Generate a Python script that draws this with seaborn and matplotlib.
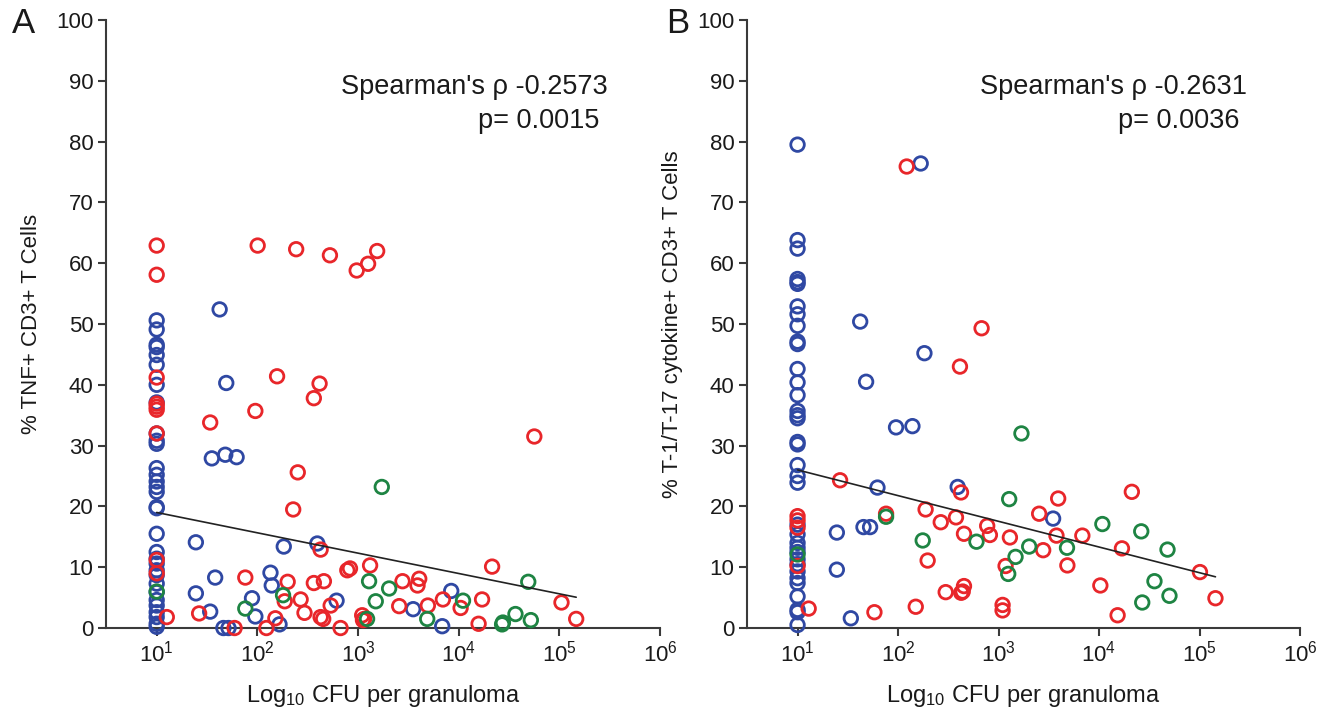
import numpy as np
import pandas as pd
import matplotlib
matplotlib.use("Agg")
import matplotlib.pyplot as plt
import seaborn as sns

# --- data (CFU per granuloma, % cells) ---
# panel A: TNF+
a_blue_cfu = [10] * 32 + [24.5, 38.1, 24.5, 34, 42.2, 49.1, 35.3, 48, 62.2, 46, 51.7, 88.5, 95.5,
                          135, 139, 166, 183, 394, 612, 3530, 8430, 6860]
a_blue_pct = [50.6, 49.1, 46.6, 46.2, 44.9, 43.3, 40.0, 37.1, 32.0, 30.8, 30.3, 26.3, 25.2, 24.1,
              23.2, 22.4, 19.9, 19.7, 15.5, 12.5, 11.4, 10.6, 9.5, 8.7, 7.3, 5.9, 4.6, 3.7, 2.6,
              1.8, 0.7, 0.2,
              14.1, 8.3, 5.7, 2.7, 52.4, 40.3, 27.9, 28.5, 28.1, 0, 0, 4.9, 1.9,
              9.1, 7.0, 0.6, 13.4, 13.9, 4.5, 3.1, 6.1, 0.3]
a_red_cfu = [10] * 9 + [12.6, 26.4, 34, 59.4, 75.9, 100.7, 95.5, 123, 151, 187, 200, 157, 243, 252,
                        227, 269, 294, 364, 458, 364, 415, 526, 425, 425, 451, 535, 671, 783, 832,
                        970, 1259, 1549, 1318, 1100, 1150, 1120, 2767, 2565, 4055, 3900, 4940, 6970,
                        10450, 17070, 21480, 15770, 56400, 105000, 147000]
a_red_pct = [62.9, 58.1, 41.2, 36.9, 36.4, 35.9, 32.0, 11.2, 9.0,
             1.8, 2.4, 33.8, 0, 8.3, 62.9, 35.7, 0, 1.6, 4.4, 7.6, 41.4, 62.3, 25.6,
             19.5, 4.7, 2.5, 7.4, 7.7, 37.8, 40.2, 61.3, 12.9, 1.8, 1.5, 3.7, 0, 9.5, 9.8,
             58.8, 59.9, 62.0, 10.3, 2.1, 1.5, 1.3, 7.7, 3.6, 8.1, 7.0, 3.7, 4.7,
             3.3, 4.7, 10.1, 0.7, 31.5, 4.2, 1.5]
a_green_cfu = [10, 75.9, 180, 1288, 1722, 1500, 2037, 1230, 4870, 11040, 27000, 27500, 36650,
               52100, 49100]
a_green_pct = [6.0, 3.2, 5.4, 7.7, 23.2, 4.4, 6.5, 1.5, 1.5, 4.5, 0.6, 0.9, 2.3, 1.3, 7.6]

# panel B: T-1/T-17 cytokine+
b_blue_cfu = [10] * 36 + [24.6, 24.6, 33.9, 42, 48.1, 45.3, 52.7, 62.4, 95.5, 139, 168, 183, 392,
                          3490]
b_blue_pct = [79.5, 63.8, 62.4, 57.4, 56.9, 56.6, 52.9, 51.6, 49.7, 47.1, 46.7, 42.6, 40.4, 38.3,
              35.7, 35.0, 34.5, 30.6, 30.2, 26.8, 25.0, 23.9, 17.0, 15.4, 14.0, 13.2, 12.5,
              11.3, 10.5, 9.3, 8.2, 7.4, 5.2, 3.0, 2.6, 0.5,
              15.7, 9.6, 1.6, 50.4, 40.5, 16.6, 16.6, 23.1, 33.0, 33.2, 76.4, 45.2, 23.2, 18.0]
b_red_cfu = [10] * 4 + [12.9, 26.5, 58.2, 76, 122, 188, 197, 150, 266, 298, 377, 423, 413, 678,
                        453, 453, 425, 440, 771, 820, 1297, 1175, 1097, 1097, 2536, 2780, 3920,
                        3770, 4840, 6820, 10300, 15300, 16900, 21200, 101000, 144000]
b_red_pct = [18.4, 17.7, 16.5, 10.2,
             3.2, 24.3, 2.6, 18.8, 75.9, 19.5, 11.1, 3.5, 17.4, 5.9, 18.2, 22.3, 43.0, 49.3,
             15.5, 6.9, 5.8, 6.0, 16.8, 15.3, 14.9, 10.2, 3.8, 2.9, 18.8, 12.8, 21.3,
             15.2, 10.3, 15.2, 7.0, 2.1, 13.1, 22.4, 9.2, 4.9]
b_green_cfu = [10, 76, 176, 603, 1276, 1248, 1690, 1476, 2018, 4800, 10790, 26300, 26900, 35600,
               48000, 50200]
b_green_pct = [12.1, 18.3, 14.4, 14.2, 21.2, 8.9, 32.0, 11.7, 13.4, 13.2, 17.1, 15.9, 4.2, 7.7,
               12.9, 5.3]

# regression line as drawn in the figure: pct = intercept + slope * log10(cfu)
fit_intercept = [22.35, 30.23]
fit_slope = [-3.345, -4.227]

panel_letters = ["A", "B"]
y_labels = ["% TNF+ CD3+ T Cells", "% T-1/T-17 cytokine+ CD3+ T Cells"]
rho_text = ["Spearman's \u03c1 -0.2573", "Spearman's \u03c1 -0.2631"]
p_text = ["p= 0.0015", "p= 0.0036"]
y_ticks = list(range(0, 101, 10))
x_ticks = [1e1, 1e2, 1e3, 1e4, 1e5, 1e6]

PALETTE = {"blue": "#2f48a3", "red": "#e8262a", "green": "#1e8443"}
TEXT_COLOR = "#1a1a1a"
AXIS_COLOR = "#3a3a3a"


def build_frame(blue_x, blue_y, red_x, red_y, green_x, green_y):
    parts = []
    for grp, xs, ys in [("blue", blue_x, blue_y), ("red", red_x, red_y), ("green", green_x, green_y)]:
        parts.append(pd.DataFrame({"cfu": xs, "pct": ys, "group": grp}))
    return pd.concat(parts, ignore_index=True)


df_a = build_frame(a_blue_cfu, a_blue_pct, a_red_cfu, a_red_pct, a_green_cfu, a_green_pct)
df_b = build_frame(b_blue_cfu, b_blue_pct, b_red_cfu, b_red_pct, b_green_cfu, b_green_pct)

sns.set_theme(style="ticks")
plt.rcParams["font.family"] = ["Liberation Sans", "DejaVu Sans"]
plt.rcParams["mathtext.fontset"] = "custom"
plt.rcParams["mathtext.rm"] = "Liberation Sans"
plt.rcParams["mathtext.it"] = "Liberation Sans:italic"

fig = plt.figure(figsize=(13.24, 7.11), dpi=100)
ax_a = fig.add_axes([0.0801, 0.1167, 0.4184, 0.8552])
ax_b = fig.add_axes([0.5642, 0.1167, 0.4177, 0.8552])

for i, (ax, df) in enumerate([(ax_a, df_a), (ax_b, df_b)]):
    sns.scatterplot(data=df, x="cfu", y="pct", hue="group", palette=PALETTE,
                    ax=ax, s=95, facecolors="none", linewidth=2.0, legend=False,
                    clip_on=False, zorder=3)
    # hollow rings: hue colour goes on the edge
    coll = ax.collections[-1]
    coll.set_edgecolors([PALETTE[g] for g in df["group"]])
    coll.set_facecolors("none")

    xs = np.array([df["cfu"].min(), df["cfu"].max()])
    ax.plot(xs, fit_intercept[i] + fit_slope[i] * np.log10(xs), color="#222222", lw=1.2, zorder=4)

    ax.set_xscale("log")
    ax.set_xlim(10 ** 0.497, 1e6)
    ax.set_ylim(0, 100)
    ax.set_xticks(x_ticks)
    ax.set_yticks(y_ticks)
    ax.xaxis.set_minor_locator(matplotlib.ticker.NullLocator())
    ax.tick_params(axis="both", direction="out", length=6, width=1.5, color=AXIS_COLOR,
                   labelsize=16, labelcolor=TEXT_COLOR, pad=3)
    for side in ["left", "bottom"]:
        ax.spines[side].set_linewidth(1.5)
        ax.spines[side].set_color(AXIS_COLOR)
    sns.despine(ax=ax)

    ax.set_xlabel("Log$_{10}$ CFU per granuloma", fontsize=17, color=TEXT_COLOR, labelpad=12)
    ax.set_ylabel(y_labels[i], fontsize=16, color=TEXT_COLOR, labelpad=10)

    ax.text(0.905, 0.89, rho_text[i], transform=ax.transAxes, ha="right", va="center",
            fontsize=19.5, color=TEXT_COLOR)
    ax.text(0.89, 0.834, p_text[i], transform=ax.transAxes, ha="right", va="center",
            fontsize=19.5, color=TEXT_COLOR)

fig.text(0.018, 0.967, panel_letters[0], fontsize=25, color=TEXT_COLOR, ha="center", va="center")
fig.text(0.512, 0.967, panel_letters[1], fontsize=25, color=TEXT_COLOR, ha="center", va="center")

fig.savefig("out.png", dpi=100)
